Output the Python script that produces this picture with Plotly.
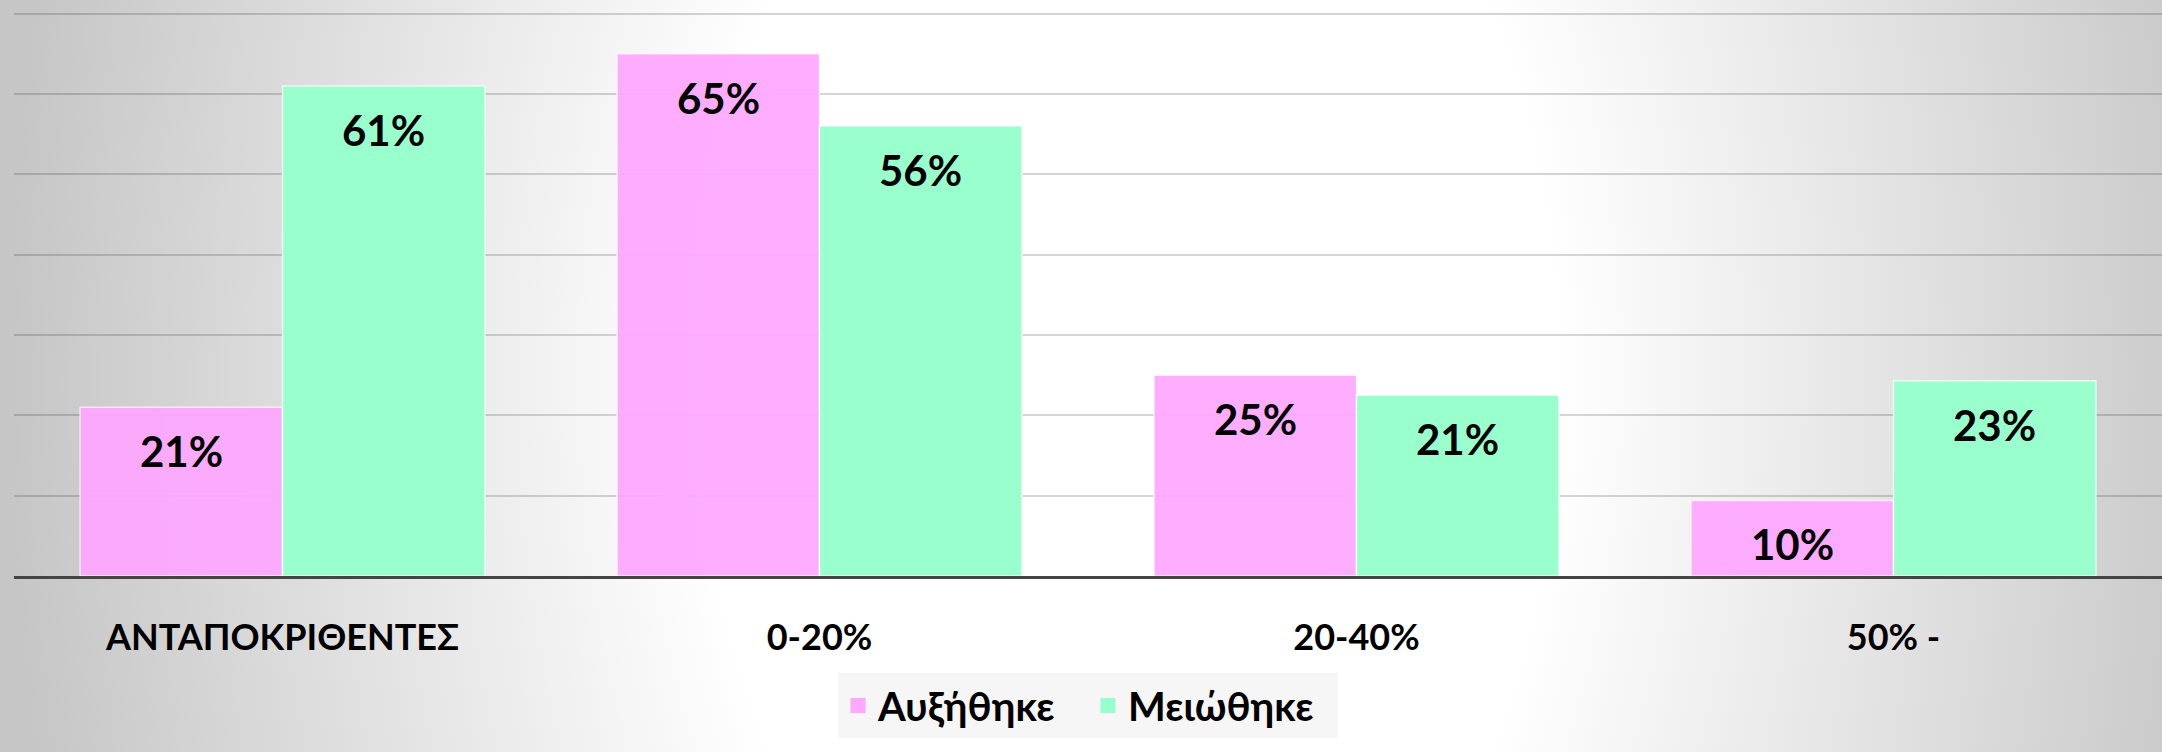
import base64
import plotly.graph_objects as go

categories = ["ΑΝΤΑΠΟΚΡΙΘΈΝΤΕΣ", "0-20%", "20-40%", "50% -"]
increased = [21, 65, 25, 9.4]
decreased = [61, 56, 22.5, 24.3]
increased_labels = ["21%", "65%", "25%", "10%"]
decreased_labels = ["61%", "56%", "21%", "23%"]
series_names = ["Αυξήθηκε", "Μειώθηκε"]

W, H = 2162, 752
ML, MR, MT, MB = 14, 0, 12, 176
PW, PH = W - ML - MR, H - MT - MB
BARGAP = 0.246
YMAX = 70.2

PINK = "rgb(255,168,255)"
GREEN = "rgb(153,255,204)"
FONT = "Lato"

svg = f'''<svg xmlns="http://www.w3.org/2000/svg" width="{W}" height="{H}" viewBox="0 0 {W} {H}" preserveAspectRatio="none">
<defs><radialGradient id="g" gradientUnits="userSpaceOnUse" cx="0" cy="0" r="1"
gradientTransform="translate(1130,380) scale(1120,1800)">
<stop offset="0" stop-color="#ffffff"/><stop offset="0.38" stop-color="#ffffff"/><stop offset="1" stop-color="#c6c6c6"/>
</radialGradient></defs><rect width="{W}" height="{H}" fill="url(#g)"/></svg>'''
bg_src = "data:image/svg+xml;base64," + base64.b64encode(svg.encode()).decode()

fig = go.Figure()
for name, vals, color, op in [(series_names[0], increased, PINK, 0.93),
                              (series_names[1], decreased, GREEN, 1.0)]:
    fig.add_trace(go.Bar(
        x=categories, y=vals, name=name, legendgroup=name, showlegend=False,
        marker=dict(color=color, opacity=op, line=dict(color="rgba(255,255,255,0.7)", width=1.5)),
        hoverinfo="skip",
    ))
# legend entries (larger square swatches than the bar default)
for name, color in [(series_names[0], PINK), (series_names[1], GREEN)]:
    fig.add_trace(go.Scatter(
        x=[None], y=[None], mode="markers", name=name, legendgroup=name,
        marker=dict(symbol="square", size=16, color=color,
                    line=dict(color="rgba(255,255,255,0.7)", width=1)),
        hoverinfo="skip",
    ))

cat_w = PW / len(categories)
half = cat_w * (1 - BARGAP) / 4
for cat, v, lab in zip(categories, increased, increased_labels):
    fig.add_annotation(x=cat, y=v, text=f"<b>{lab}</b>", showarrow=False,
                       xshift=-half, yshift=-44, yanchor="middle",
                       font=dict(family=FONT, size=42, color="black"))
for cat, v, lab in zip(categories, decreased, decreased_labels):
    fig.add_annotation(x=cat, y=v, text=f"<b>{lab}</b>", showarrow=False,
                       xshift=half, yshift=-44, yanchor="middle",
                       font=dict(family=FONT, size=42, color="black"))

fig.add_layout_image(dict(
    source=bg_src, xref="paper", yref="paper",
    x=-ML / PW, y=1 + MT / PH, sizex=W / PW, sizey=H / PH,
    xanchor="left", yanchor="top", sizing="stretch", layer="below",
))

LEG_TOP = 673
fig.update_layout(
    width=W, height=H,
    margin=dict(l=ML, r=MR, t=MT, b=MB, pad=0),
    paper_bgcolor="#c8c8c8",
    plot_bgcolor="rgba(0,0,0,0)",
    barmode="group", bargap=BARGAP, bargroupgap=0,
    showlegend=True,
    legend=dict(
        orientation="h", x=0.5, xanchor="center",
        y=-(LEG_TOP - (H - MB)) / PH, yanchor="top",
        bgcolor="#f6f6f6",
        font=dict(family=FONT, size=40, color="black", weight="bold"),
        itemwidth=30, entrywidth=205,
    ),
    xaxis=dict(
        type="category", range=[-0.5, 3.5],
        showline=True, linecolor="#444444", linewidth=3,
        showgrid=False, ticks="", ticklabelstandoff=28,
        tickfont=dict(family=FONT, size=36, color="black", weight="bold"),
    ),
    yaxis=dict(
        range=[0, YMAX], tick0=0, dtick=10, showticklabels=False,
        showgrid=True, gridcolor="rgba(0,0,0,0.16)", gridwidth=1.5,
        zeroline=False, showline=False,
    ),
)

fig.write_html("out.html", config={"displayModeBar": False},
               post_script="document.body.style.margin='0px';")
